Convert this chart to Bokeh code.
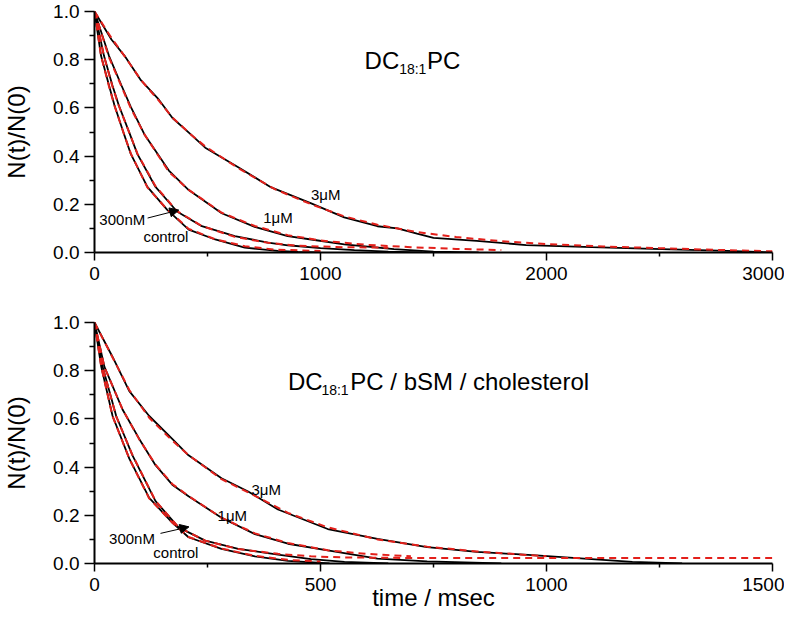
from bokeh.plotting import figure
from bokeh.layouts import column
from bokeh.models import Range1d, FixedTicker, NumeralTickFormatter, Label, Arrow, NormalHead
from bokeh.embed import file_html
from bokeh.resources import INLINE

# ---- values ----
# top panel : DC18:1PC  (time in msec, N(t)/N(0))
top_ctrl_t = [0, 29, 64, 88, 131, 161, 234, 322, 417, 534, 665, 811, 900, 1000]
top_ctrl_v = [1.0, 0.816, 0.694, 0.612, 0.49, 0.408, 0.272, 0.177, 0.095, 0.054, 0.020, 0.007, 0.002, 0.0]
top_300_t = [0, 42, 79, 107, 157, 190, 270, 365, 475, 621, 768, 855, 1000, 1150, 1300, 1450]
top_300_v = [1.0, 0.816, 0.694, 0.612, 0.49, 0.408, 0.272, 0.170, 0.109, 0.068, 0.041, 0.030, 0.018, 0.010, 0.004, 0.0]
top_1_t = [0, 64, 119, 160, 221, 329, 417, 563, 709, 855, 959, 1105, 1325, 1500, 1700]
top_1_v = [1.0, 0.816, 0.694, 0.605, 0.49, 0.340, 0.259, 0.163, 0.106, 0.068, 0.054, 0.034, 0.014, 0.004, 0.0]
top_3_t = [0, 75, 133, 206, 280, 345, 426, 490, 636, 782, 959, 1105, 1252, 1340, 1427, 1500, 1691, 1910, 2200, 2510, 2800, 3000]
top_3_v = [1.0, 0.884, 0.816, 0.714, 0.640, 0.558, 0.490, 0.435, 0.354, 0.270, 0.204, 0.146, 0.109, 0.100, 0.078, 0.061, 0.048, 0.031, 0.022, 0.014, 0.007, 0.0]

top_fit_ctrl_t = [0, 29, 64, 88, 131, 161, 234, 322, 417, 534, 665, 800, 1000]
top_fit_ctrl_v = [1.0, 0.815, 0.69, 0.61, 0.49, 0.41, 0.27, 0.178, 0.098, 0.055, 0.026, 0.012, 0.006]
top_fit_300_t = [0, 42, 79, 107, 157, 190, 270, 365, 475, 621, 768, 900, 1100, 1300]
top_fit_300_v = [1.0, 0.815, 0.69, 0.61, 0.49, 0.41, 0.275, 0.172, 0.11, 0.065, 0.04, 0.028, 0.022, 0.02]
top_fit_1_t = [0, 64, 119, 160, 221, 329, 417, 563, 709, 855, 1000, 1200, 1400, 1600, 1800]
top_fit_1_v = [1.0, 0.81, 0.69, 0.60, 0.49, 0.335, 0.26, 0.165, 0.11, 0.072, 0.05, 0.032, 0.022, 0.015, 0.01]
top_fit_3_t = [0, 75, 133, 206, 280, 345, 426, 490, 636, 800, 959, 1105, 1252, 1427, 1600, 1800, 2000, 2250, 2500, 2750, 3000]
top_fit_3_v = [1.0, 0.89, 0.815, 0.715, 0.635, 0.56, 0.49, 0.44, 0.35, 0.262, 0.20, 0.15, 0.115, 0.085, 0.064, 0.047, 0.035, 0.025, 0.018, 0.011, 0.005]

# bottom panel : DC18:1PC / bSM / cholesterol
bot_ctrl_t = [0, 15, 40, 77, 121, 172, 208, 281, 355, 428, 520]
bot_ctrl_v = [1.0, 0.816, 0.612, 0.435, 0.272, 0.170, 0.109, 0.061, 0.030, 0.011, 0.0]
bot_300_t = [0, 18, 48, 84, 135, 186, 245, 318, 406, 479, 553, 650]
bot_300_v = [1.0, 0.816, 0.612, 0.449, 0.259, 0.150, 0.095, 0.061, 0.037, 0.018, 0.007, 0.0]
bot_1_t = [0, 22, 62, 99, 135, 172, 208, 281, 355, 428, 516, 626, 736, 900]
bot_1_v = [1.0, 0.816, 0.639, 0.517, 0.408, 0.327, 0.279, 0.190, 0.122, 0.082, 0.054, 0.020, 0.009, 0.0]
bot_3_t = [0, 40, 77, 121, 172, 208, 281, 340, 406, 516, 626, 736, 846, 977, 1190, 1300]
bot_3_v = [1.0, 0.857, 0.715, 0.612, 0.517, 0.449, 0.354, 0.299, 0.224, 0.143, 0.102, 0.068, 0.048, 0.034, 0.007, 0.0]

bot_fit_ctrl_t = [0, 15, 40, 77, 121, 172, 208, 281, 355, 428, 500]
bot_fit_ctrl_v = [1.0, 0.815, 0.61, 0.435, 0.27, 0.17, 0.11, 0.062, 0.032, 0.015, 0.008]
bot_fit_300_t = [0, 18, 48, 84, 135, 186, 245, 318, 406, 479, 553, 700, 900, 1100, 1300, 1500]
bot_fit_300_v = [1.0, 0.815, 0.61, 0.45, 0.26, 0.15, 0.095, 0.06, 0.04, 0.03, 0.025, 0.023, 0.023, 0.023, 0.023, 0.023]
bot_fit_1_t = [0, 22, 62, 99, 135, 172, 208, 281, 355, 428, 516, 600, 700]
bot_fit_1_v = [1.0, 0.815, 0.64, 0.515, 0.41, 0.33, 0.28, 0.19, 0.125, 0.085, 0.055, 0.04, 0.03]
bot_fit_3_t = [0, 40, 77, 121, 172, 208, 281, 340, 428, 516, 626, 736, 846, 1000]
bot_fit_3_v = [1.0, 0.855, 0.72, 0.605, 0.51, 0.45, 0.35, 0.295, 0.21, 0.15, 0.10, 0.07, 0.05, 0.03]

top_xticks = [0, 1000, 2000, 3000]
top_xminor = [500, 1500, 2500]
bot_xticks = [0, 500, 1000, 1500]
bot_xminor = [250, 750, 1250]
yticks = [0.0, 0.2, 0.4, 0.6, 0.8, 1.0]
yminor = [0.1, 0.3, 0.5, 0.7, 0.9]

FONT = "Liberation Sans"
RED = "#e3201b"


def style(p, xticks, xminor):
    p.xgrid.grid_line_color = None
    p.ygrid.grid_line_color = None
    p.outline_line_color = None
    p.background_fill_color = "white"
    p.border_fill_color = "white"
    p.xaxis.ticker = FixedTicker(ticks=xticks, minor_ticks=xminor)
    p.yaxis.ticker = FixedTicker(ticks=yticks, minor_ticks=yminor)
    p.yaxis.formatter = NumeralTickFormatter(format="0.0")
    for ax in (p.xaxis, p.yaxis):
        ax.axis_line_width = 2
        ax.axis_line_color = "black"
        ax.major_tick_line_width = 1.5
        ax.minor_tick_line_width = 1.5
        ax.major_tick_in = 0
        ax.minor_tick_in = 0
        ax.major_label_text_font = FONT
        ax.major_label_text_font_size = "19px"
        ax.major_label_text_color = "black"
        ax.axis_label_text_font = FONT
        ax.axis_label_text_font_size = "24px"
        ax.axis_label_text_font_style = "normal"
        ax.axis_label_text_color = "black"
    p.yaxis.major_tick_out = 10
    p.yaxis.minor_tick_out = 5
    p.yaxis.major_label_standoff = 5
    p.yaxis.axis_label = "N(t)/N(0)"
    p.yaxis.axis_label_standoff = 20
    p.xaxis.major_tick_out = 8
    p.xaxis.minor_tick_out = 4
    p.xaxis.major_label_standoff = 6


def curves(p, data, fits):
    for t, v in data:
        p.line(t, v, line_color="black", line_width=1.8)
    for t, v in fits:
        p.line(t, v, line_color=RED, line_width=2, line_dash="7 5")


def txt(p, x, y, s, size, align="center", base="middle"):
    p.add_layout(Label(x=x, y=y, text=s, text_font=FONT, text_font_size=size,
                       text_align=align, text_baseline=base, text_color="black"))


#Top panel
p1 = figure(width=784, height=288, x_range=Range1d(0, 3000), y_range=Range1d(0, 1.0),
            toolbar_location=None, tools="", output_backend="svg",
            min_border_left=93, min_border_right=12, min_border_top=11, min_border_bottom=36)
style(p1, top_xticks, top_xminor)
curves(p1,
       [(top_ctrl_t, top_ctrl_v), (top_300_t, top_300_v), (top_1_t, top_1_v), (top_3_t, top_3_v)],
       [(top_fit_ctrl_t, top_fit_ctrl_v), (top_fit_300_t, top_fit_300_v), (top_fit_1_t, top_fit_1_v), (top_fit_3_t, top_fit_3_v)])
txt(p1, 1195, 0.796, "DC", "24px", "left", "alphabetic")
txt(p1, 1348, 0.762, "18:1", "14px", "left", "alphabetic")
txt(p1, 1471, 0.796, "PC", "24px", "left", "alphabetic")
txt(p1, 1023, 0.241, "3μM", "15px")
txt(p1, 812, 0.147, "1μM", "15px")
txt(p1, 123, 0.135, "300nM", "15px")
txt(p1, 316, 0.065, "control", "15px")
p1.add_layout(Arrow(end=NormalHead(size=9, fill_color="black", line_color="black"),
                    x_start=235, y_start=0.143, x_end=373, y_end=0.176, line_width=1))

#Bottom panel
p2 = figure(width=784, height=326, x_range=Range1d(0, 1500), y_range=Range1d(0, 1.0),
            toolbar_location=None, tools="", output_backend="svg",
            min_border_left=93, min_border_right=12, min_border_top=34, min_border_bottom=51)
style(p2, bot_xticks, bot_xminor)
p2.xaxis.axis_label = "time / msec"
p2.xaxis.axis_label_standoff = -10
curves(p2,
       [(bot_ctrl_t, bot_ctrl_v), (bot_300_t, bot_300_v), (bot_1_t, bot_1_v), (bot_3_t, bot_3_v)],
       [(bot_fit_ctrl_t, bot_fit_ctrl_v), (bot_fit_300_t, bot_fit_300_v), (bot_fit_1_t, bot_fit_1_v), (bot_fit_3_t, bot_fit_3_v)])
txt(p2, 428, 0.755, "DC", "24px", "left", "alphabetic")
txt(p2, 502, 0.718, "18:1", "14px", "left", "alphabetic")
txt(p2, 566, 0.755, "PC / bSM / cholesterol", "24px", "left", "alphabetic")
txt(p2, 380, 0.306, "3μM", "15px")
txt(p2, 305, 0.200, "1μM", "15px")
txt(p2, 83, 0.102, "300nM", "15px")
txt(p2, 180, 0.045, "control", "15px")
p2.add_layout(Arrow(end=NormalHead(size=9, fill_color="black", line_color="black"),
                    x_start=146, y_start=0.125, x_end=209, y_end=0.152, line_width=1))

layout = column(p1, p2)
open("out.html", "w").write(file_html(layout, INLINE))
